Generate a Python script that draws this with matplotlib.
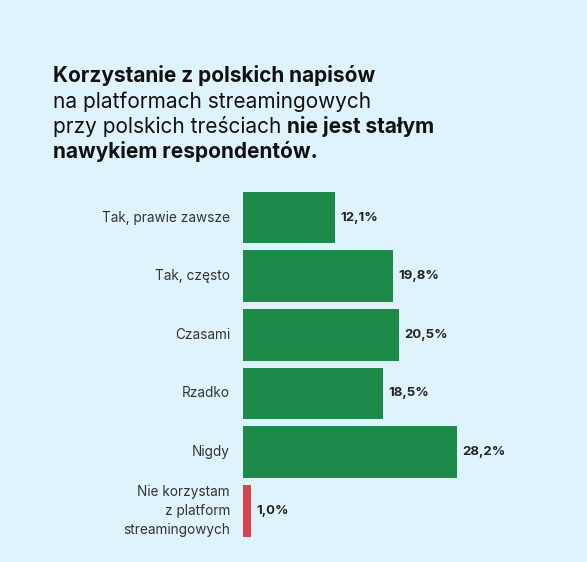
import matplotlib.pyplot as plt

categories = ['Tak, prawie zawsze', 'Tak, często', 'Czasami', 'Rzadko', 'Nigdy',
              'Nie korzystam\nz platform\nstreamingowych']
values = [12.1, 19.8, 20.5, 18.5, 28.2, 1.0]
colors = ['#1e8a4a'] * 5 + ['#d9434b']

plt.rcParams['font.family'] = ['Inter', 'DejaVu Sans']
bg = '#dff3fd'
fig = plt.figure(figsize=(5.87, 5.62), dpi=100, facecolor=bg)
ax = fig.add_axes([0.414, 0.039, 0.388, 0.626])
ax.set_facecolor(bg)

y = list(range(len(values)))
ax.barh(y, values, height=0.88, color=colors)
ax.set_xlim(0, 30)
ax.set_ylim(len(values) - 0.5, -0.5)
for s in ax.spines.values():
    s.set_visible(False)
ax.set_xticks([])
ax.set_yticks([])
for yi, v, c in zip(y, values, categories):
    ax.text(v + 0.7, yi, f'{v:.1f}%'.replace('.', ','), va='center', ha='left',
            fontsize=9.5, fontweight='bold', color='#222')
    ax.text(-1.7, yi, c, va='center', ha='right', fontsize=9.8, color='#333',
            linespacing=1.45)

# title with mixed weights
fig.canvas.draw()
r = fig.canvas.get_renderer()
x0 = 53 / 587
lines = [[('Korzystanie z polskich napisów', 'bold')],
         [('na platformach streamingowych', 'normal')],
         [('przy polskich treściach ', 'normal'), ('nie jest stałym', 'bold')],
         [('nawykiem respondentów.', 'bold')]]
for i, parts in enumerate(lines):
    yb = 1 - (82 + i * 25.5) / 562
    x = x0
    for txt, w in parts:
        t = fig.text(x, yb, txt, fontsize=15, fontweight=w, color='#111', va='baseline')
        bb = t.get_window_extent(r)
        x += bb.width / fig.bbox.width

fig.savefig('out.png', dpi=100, facecolor=bg)
